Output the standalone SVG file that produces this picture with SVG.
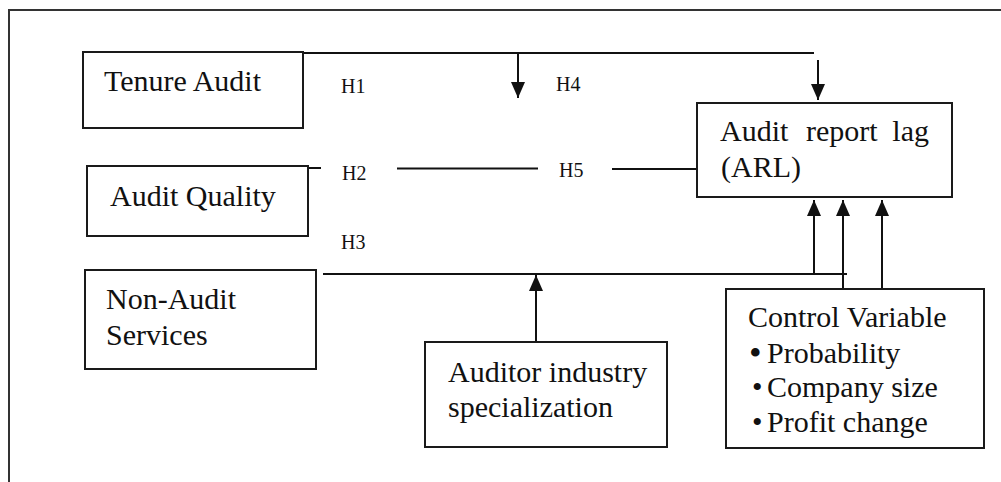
<svg xmlns="http://www.w3.org/2000/svg" width="1001" height="482" viewBox="0 0 1001 482">
<style>
.box{fill:#fff;stroke:#1a1a1a;stroke-width:2}
.t{font-family:'Liberation Serif','Times New Roman',Tinos,'DejaVu Serif',serif;font-size:30px;fill:#111}
.h{font-family:'Liberation Serif','Times New Roman',Tinos,'DejaVu Serif',serif;font-size:20px;fill:#111}
.ln{fill:none;stroke:#111;stroke-width:2}
.frame{fill:none;stroke:#333;stroke-width:2}
</style>
<defs>
<marker id="ah" viewBox="0 0 16 14" refX="16" refY="7" markerWidth="16" markerHeight="14" markerUnits="userSpaceOnUse" orient="auto">
<path d="M0,0 L16,7 L0,14 z" fill="#111"/>
</marker>
</defs>
<rect width="1001" height="482" fill="#fff"/>
<path class="frame" d="M9,482 V10 H1001"/>

<g id="connectors">
<path class="ln" d="M303,53 H814"/>
<path class="ln" d="M518,53 V98" marker-end="url(#ah)"/>
<path class="ln" d="M818,60 V100" marker-end="url(#ah)"/>
<path class="ln" d="M307,168 H321"/>
<path class="ln" d="M397,168.5 H538"/>
<path class="ln" d="M612,169 H708"/>
<path class="ln" d="M323,274 H847"/>
<path class="ln" d="M536,342 V275" marker-end="url(#ah)"/>
<path class="ln" d="M814,274 V200" marker-end="url(#ah)"/>
<path class="ln" d="M843,289 V200" marker-end="url(#ah)"/>
<path class="ln" d="M882,289 V200" marker-end="url(#ah)"/>
<text class="h" x="341" y="93">H1</text>
<text class="h" x="556" y="91">H4</text>
<text class="h" x="342" y="180">H2</text>
<text class="h" x="559" y="177">H5</text>
<text class="h" x="341" y="249">H3</text>
</g>

<g id="tenure">
<rect class="box" x="83" y="52" width="220" height="76"/>
<text class="t" x="104" y="91">Tenure Audit</text>
</g>

<g id="quality">
<rect class="box" x="87" y="166" width="221" height="70"/>
<text class="t" x="110" y="206">Audit Quality</text>
</g>

<g id="nonaudit">
<rect class="box" x="85" y="270" width="231" height="99"/>
<text class="t" x="106" y="309">Non-Audit</text>
<text class="t" x="106" y="345">Services</text>
</g>

<g id="specialization">
<rect class="box" x="425" y="342" width="242" height="105"/>
<text class="t" x="448" y="382">Auditor industry</text>
<text class="t" x="448" y="417">specialization</text>
</g>

<g id="arl">
<rect class="box" x="697" y="103" width="255" height="94"/>
<text class="t" y="141"><tspan x="720">Audit</tspan><tspan x="806">report</tspan><tspan x="929" text-anchor="end">lag</tspan></text>
<text class="t" x="721" y="177">(ARL)</text>
</g>

<g id="control">
<rect class="box" x="726" y="289" width="258" height="159"/>
<text class="t" x="748" y="327">Control Variable</text>
<text class="t" y="363"><tspan x="749" font-size="36" dy="2">•</tspan><tspan x="767" dy="-2">Probability</tspan></text>
<text class="t" y="397"><tspan x="752">•</tspan><tspan x="767">Company size</tspan></text>
<text class="t" y="432"><tspan x="752">•</tspan><tspan x="767">Profit change</tspan></text>
</g>
</svg>
